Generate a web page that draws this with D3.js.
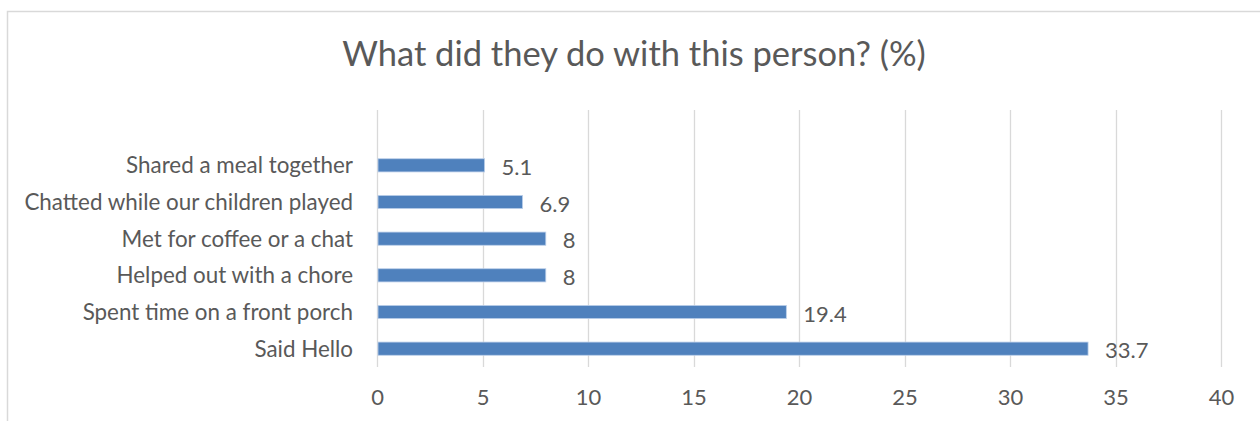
<!DOCTYPE html>
<html>
<head>
<meta charset="utf-8">
<script src="https://cdn.jsdelivr.net/npm/d3@7"></script>
<style>
  html, body { margin: 0; padding: 0; background: #fff; }
  svg { display: block; }
  text { font-family: Lato, "Open Sans", sans-serif; fill: #595959; }
</style>
</head>
<body>
<svg id="chart" width="1260" height="421"></svg>
<script>
const title = "What did they do with this person? (%)";
const categories = [
  "Shared a meal together",
  "Chatted while our children played",
  "Met for coffee or a chat",
  "Helped out with a chore",
  "Spent time on a front porch",
  "Said Hello"
];
const values = [5.1, 6.9, 8, 8, 19.4, 33.7];
const valueLabels = ["5.1", "6.9", "8", "8", "19.4", "33.7"];
const xTicks = [0, 5, 10, 15, 20, 25, 30, 35, 40];

const svg = d3.select("#chart");

// chart border (extends past right/bottom edges as in the reference)
svg.append("rect")
  .attr("x", 7.5).attr("y", 11.5)
  .attr("width", 1400).attr("height", 600)
  .attr("fill", "none").attr("stroke", "#d9d9d9").attr("stroke-width", 1.5);

const plotLeft = 377, plotRight = 1221;
const gridTop = 110, plotBottom = 367;
const bandTop = 147;

const x = d3.scaleLinear().domain([0, 40]).range([plotLeft, plotRight]);
const y = d3.scaleBand().domain(categories).range([bandTop, plotBottom]).paddingInner(0.64).paddingOuter(0.32);

// gridlines
svg.append("g").selectAll("line").data(xTicks).join("line")
  .attr("x1", d => Math.round(x(d)) + 0.5).attr("x2", d => Math.round(x(d)) + 0.5)
  .attr("y1", gridTop).attr("y2", plotBottom)
  .attr("stroke", "#d9d9d9").attr("stroke-width", 1.3);

// x axis tick labels
const xAxis = d3.axisBottom(x).tickValues(xTicks).tickSize(0).tickPadding(0).tickFormat(d3.format("d"));
const gx = svg.append("g").attr("transform", `translate(0,${plotBottom})`).call(xAxis);
gx.select(".domain").remove();
gx.selectAll("text")
  .attr("y", 30).attr("dy", "0.35em")
  .style("font-size", "22px").attr("fill", "#595959")
  .style("font-family", "Lato, 'Open Sans', sans-serif");

// y axis category labels
const yAxis = d3.axisLeft(y).tickSize(0).tickPadding(24);
const gy = svg.append("g").attr("transform", `translate(${plotLeft},0)`).call(yAxis);
gy.select(".domain").remove();
gy.selectAll("text")
  .attr("dy", "0.35em")
  .style("font-size", "22.4px").attr("fill", "#595959")
  .style("font-family", "Lato, 'Open Sans', sans-serif");

// bars
svg.append("g").selectAll("rect").data(values).join("rect")
  .attr("x", x(0) + 1)
  .attr("y", (d, i) => y(categories[i]))
  .attr("width", d => x(d) - x(0) - 1)
  .attr("height", y.bandwidth())
  .attr("fill", "#4f81bd")
  .attr("stroke", "#bcd0ea").attr("stroke-width", 0.8);

// value labels
svg.append("g").selectAll("text").data(values).join("text")
  .attr("x", d => x(d) + 17)
  .attr("y", (d, i) => y(categories[i]) + y.bandwidth() / 2 + 2)
  .attr("dy", "0.35em")
  .style("font-size", "22px")
  .text((d, i) => valueLabels[i]);

// title
svg.append("text")
  .attr("x", 634).attr("y", 66)
  .attr("text-anchor", "middle")
  .style("font-size", "34.5px")
  .text(title);
</script>
</body>
</html>
